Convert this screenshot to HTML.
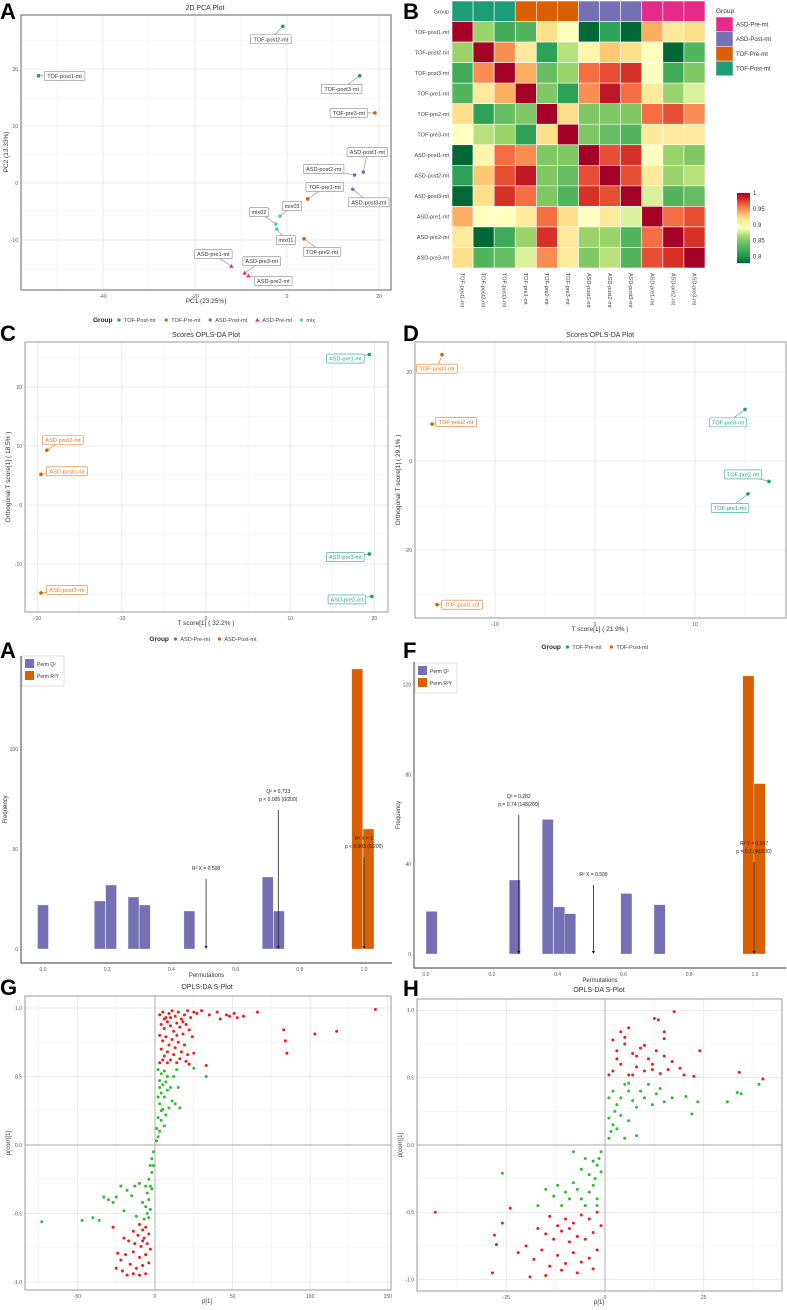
<!DOCTYPE html>
<html><head><meta charset="utf-8"><style>
html,body{margin:0;padding:0;background:#fff;}
svg{display:block;font-family:"Liberation Sans",sans-serif;}
</style></head><body>
<svg id="fig" width="787" height="1310" viewBox="0 0 787 1310" xmlns="http://www.w3.org/2000/svg"></svg>
<script>
// ---------- PCA data (panel A) ----------
const pcaNames=["TOF-post1-mt","TOF-post2-mt","TOF-post3-mt","TOF-pre3-mt","ASD-post1-mt","ASD-post2-mt","ASD-post3-mt","TOF-pre1-mt","mix03","mix02","mix01","TOF-pre2-mt","ASD-pre1-mt","ASD-pre3-mt","ASD-pre2-mt"];
const pcaPC1=[-54,-0.9,15.8,19.1,16.6,14.7,14.3,4.5,-1.5,-2.4,-2.2,3.7,-12.1,-9.2,-8.4];
const pcaPC2=[18.8,27.5,18.8,12.3,1.9,1.4,-1.1,-2.8,-5.8,-7.2,-8.1,-9.8,-14.6,-15.8,-16.3];
const pcaGroup=["TOF-Post","TOF-Post","TOF-Post","TOF-Pre","ASD-Post","ASD-Post","ASD-Post","TOF-Pre","mix","mix","mix","TOF-Pre","ASD-Pre","ASD-Pre","ASD-Pre"];
const pcaXTicks=[-40,-20,0,20];
const pcaYTicks=[-10,0,10,20];
// ---------- Heatmap data (panel B) ----------
const hmSamples=["TOF-post1-mt","TOF-post2-mt","TOF-post3-mt","TOF-pre1-mt","TOF-pre2-mt","TOF-pre3-mt","ASD-post1-mt","ASD-post2-mt","ASD-post3-mt","ASD-pre1-mt","ASD-pre2-mt","ASD-pre3-mt"];
const hmGroups=["TOF-Post","TOF-Post","TOF-Post","TOF-Pre","TOF-Pre","TOF-Pre","ASD-Post","ASD-Post","ASD-Post","ASD-Pre","ASD-Pre","ASD-Pre"];
const hmValues=[
[1,.86,.82,.83,.92,.89,.78,.81,.78,.94,.91,.92],
[.86,1,.95,.91,.81,.87,.90,.93,.92,.89,.78,.83],
[.82,.95,1,.94,.84,.86,.96,.97,.98,.89,.82,.85],
[.83,.91,.94,1,.85,.81,.95,.99,.96,.91,.86,.88],
[.92,.81,.84,.85,1,.92,.85,.85,.85,.96,.97,.95],
[.89,.87,.86,.81,.92,1,.85,.84,.83,.91,.91,.91],
[.78,.90,.96,.95,.85,.85,1,.97,.98,.89,.86,.85],
[.81,.93,.97,.99,.85,.84,.97,1,.97,.91,.86,.87],
[.78,.92,.98,.96,.85,.83,.98,.97,1,.88,.83,.84],
[.94,.89,.89,.91,.96,.92,.89,.91,.88,1,.96,.97],
[.91,.78,.82,.86,.98,.91,.86,.86,.83,.96,1,.98],
[.92,.83,.84,.88,.95,.91,.85,.87,.83,.97,.98,1]];
const hmLegendTicks=[1,0.95,0.9,0.85,0.8];
// ---------- OPLS-DA scores (C, D) ----------
const cNames=["ASD-pre1-mt","ASD-post2-mt","ASD-post1-mt","ASD-pre3-mt","ASD-post3-mt","ASD-pre2-mt"];
const cT=[19.4,-18.9,-19.6,19.4,-19.6,19.7];
const cO=[25.5,9.3,5.2,-8.3,-14.9,-15.5];
const cGroup=["pre","post","post","pre","post","pre"];
const cXTicks=[-20,-10,0,10,20];
const cYTicks=[-10,0,10,20];
const dNames=["TOF-post3-mt","TOF-post2-mt","TOF-pre3-mt","TOF-pre2-mt","TOF-pre1-mt","TOF-post1-mt"];
const dT=[-15.3,-16.3,15,17.4,15.3,-15.8];
const dO=[23.9,8.3,11.6,-4.6,-7.4,-32.3];
const dGroup=["post","post","pre","pre","pre","post"];
const dXTicks=[-10,0,10];
const dYTicks=[-20,0,20];
// ---------- Permutation histograms ----------
const eQ2Bins=[0.0,0.177,0.212,0.282,0.317,0.456,0.70,0.735];
const eQ2Freq=[22,24,32,26,22,19,36,19];
const eR2YBins=[0.979,1.014];
const eR2YFreq=[140,60];
const eStats=[0.508,0.733,1.0];
const eYTicks=[0,50,100];
const fQ2Bins=[0.017,0.27,0.37,0.405,0.438,0.609,0.71];
const fQ2Freq=[19,33,60,21,18,27,22];
const fR2YBins=[0.98,1.014];
const fR2YFreq=[124,76];
const fStats=[0.509,0.282,0.997];
const fYTicks=[0,40,80,120];
const permXTicks=[0,0.2,0.4,0.6,0.8,1.0];
// ---------- S-plots ----------
const gPoints=[[3,0.95],[5,0.97],[7,0.93],[9,0.96],[11,0.98],[13,0.94],[15,0.97],[17,0.92],[19,0.95],[21,0.98],[23,0.93],[25,0.97],[27,0.96],[4,0.88],[6,0.85],[8,0.9],[10,0.87],[12,0.83],[14,0.89],[16,0.86],[18,0.81],[20,0.88],[22,0.84],[24,0.79],[3,0.8],[5,0.76],[7,0.79],[9,0.73],[11,0.77],[13,0.71],[15,0.75],[17,0.68],[19,0.73],[21,0.66],[4,0.7],[6,0.65],[8,0.68],[10,0.62],[12,0.66],[14,0.6],[3,0.6],[5,0.62],[16,0.63],[25,0.67],[20,0.61],[6,0.92],[10,0.93],[14,0.8],[18,0.9],[8,0.6],[30,0.98],[35,0.95],[40,0.97],[42,0.92],[46,0.95],[48,0.94],[51,0.96],[53,0.93],[57,0.94],[66,0.97],[83,0.84],[84,0.76],[85,0.67],[103,0.81],[117,0.83],[142,0.99],[33,0.58],[22,0.59],
[2,0.55],[4,0.52],[6,0.54],[8,0.5],[3,0.47],[5,0.44],[7,0.46],[10,0.42],[12,0.5],[14,0.55],[4,0.38],[6,0.35],[8,0.4],[11,0.32],[13,0.3],[3,0.3],[5,0.26],[7,0.22],[9,0.27],[4,0.18],[6,0.14],[3,0.1],[2,0.06],[1,0.03],[2,0.2],[16,0.27],[15,0.42],[33,0.5],[25,0.56],[3,0.42],[2,0.35],[4,0.25],[1,0.12],
[-1,-0.05],[-2,-0.1],[-3,-0.15],[-2,-0.2],[-4,-0.25],[-3,-0.3],[-5,-0.35],[-4,-0.4],[-6,-0.45],[-5,-0.5],[-7,-0.54],[-3,-0.47],[-6,-0.3],[-8,-0.42],[-10,-0.28],[-13,-0.3],[-15,-0.37],[-18,-0.33],[-22,-0.3],[-25,-0.38],[-27,-0.42],[-30,-0.4],[-33,-0.38],[-20,-0.48],[-12,-0.52],[-36,-0.55],[-40,-0.53],[-47,-0.55],[-73,-0.56],[-2,-0.32],[-1,-0.15],[-4,-0.53],
[-6,-0.6],[-8,-0.62],[-10,-0.58],[-4,-0.65],[-7,-0.68],[-11,-0.66],[-14,-0.63],[-5,-0.72],[-9,-0.74],[-13,-0.72],[-17,-0.7],[-20,-0.68],[-27,-0.6],[-6,-0.8],[-10,-0.82],[-14,-0.78],[-19,-0.8],[-24,-0.79],[-4,-0.86],[-8,-0.88],[-12,-0.9],[-16,-0.87],[-21,-0.92],[-25,-0.9],[-6,-0.94],[-10,-0.95],[-14,-0.94],[-18,-0.95],[-22,-0.84],[-3,-0.76],[-8,-0.7]];
const gXTicks=[-50,0,50,100,150];
const gYTicks=[-1,-0.5,0,0.5,1];
const hPoints=[[2,0.55],[4,0.6],[6,0.52],[8,0.58],[10,0.55],[12,0.6],[14,0.53],[3,0.7],[5,0.75],[7,0.68],[9,0.72],[11,0.64],[13,0.7],[15,0.66],[17,0.62],[2,0.78],[4,0.84],[6,0.87],[5,0.8],[3,0.64],[8,0.66],[10,0.74],[12,0.56],[16,0.56],[19,0.57],[20,0.52],[17.5,0.99],[12.5,0.94],[13.5,0.93],[15,0.84],[15,0.79],[24,0.7],[22.5,0.51],[34,0.54],[40,0.49],[7,0.52],[1,0.52],
[1,0.05],[1.5,0.1],[2,0.15],[1,0.2],[2.5,0.25],[3,0.3],[4,0.35],[2,0.4],[5,0.45],[6,0.4],[7,0.33],[8,0.28],[4,0.22],[6,0.18],[3,0.12],[9,0.4],[10,0.35],[11,0.45],[12,0.3],[13,0.38],[14,0.42],[15,0.32],[5,0.05],[8,0.07],[17,0.35],[20.5,0.36],[22,0.23],[23.5,0.32],[31,0.32],[33.5,0.39],[34.5,0.38],[39,0.45],[6,0.46],[1,0.35],
[-1,-0.05],[-1.5,-0.1],[-2,-0.15],[-1,-0.2],[-2.5,-0.25],[-3,-0.3],[-4,-0.35],[-2,-0.4],[-5,-0.45],[-6,-0.4],[-7,-0.33],[-8,-0.28],[-4,-0.22],[-6,-0.18],[-3,-0.12],[-9,-0.4],[-10,-0.35],[-11,-0.45],[-12,-0.3],[-13,-0.38],[-15,-0.33],[-17,-0.45],[-26,-0.21],[-5,-0.1],[-8,-0.05],[-2,-0.45],
[-2,-0.5],[-4,-0.55],[-6,-0.52],[-8,-0.58],[-10,-0.55],[-12,-0.6],[-14,-0.53],[-3,-0.65],[-5,-0.7],[-7,-0.68],[-9,-0.72],[-11,-0.64],[-13,-0.7],[-15,-0.66],[-17,-0.62],[-2,-0.78],[-4,-0.84],[-6,-0.87],[-8,-0.8],[-10,-0.88],[-12,-0.82],[-14,-0.9],[-16,-0.78],[-18,-0.85],[-20,-0.75],[-7,-0.95],[-11,-0.93],[-15,-0.97],[-19,-0.98],[-22,-0.8],[-43,-0.5],[-28,-0.67],[-28.5,-0.95],[-27.5,-0.74],[-26,-0.58],[-24,-0.47],[-3,-0.92],[-1,-0.6],[-9,-0.62]];
const hXTicks=[-25,0,25];
const hYTicks=[-1,-0.5,0,0.5,1];

// ---------- helpers ----------
const NS="http://www.w3.org/2000/svg";
const svg=document.getElementById("fig");
function mk(tag,attrs,parent){const e=document.createElementNS(NS,tag);for(const k in attrs)e.setAttribute(k,attrs[k]);(parent||svg).appendChild(e);return e;}
function tx(x,y,s,size,attrs,parent){const t=mk("text",Object.assign({x:x,y:y,"font-size":size},attrs||{}),parent);t.textContent=s;return t;}
function lin(d0,d1,p0,p1){return v=>p0+(v-d0)*(p1-p0)/(d1-d0);}
const COL={"TOF-Post":"#1b9e77","TOF-Pre":"#d95f02","ASD-Post":"#7570b3","ASD-Pre":"#e7298a","mix":"#4fc8d0"};

function panelLetter(x,y,s){
  const t=tx(x,y,s,22,{"font-weight":"bold",fill:"#000"});
  
  
}
function gridFrame(g,L,T,R,B,sx,sy,xt,yt,xstep,ystep,border){
  const bg=mk("rect",{x:L,y:T,width:R-L,height:B-T,fill:"#fff"},g);
  
  
  for(let i=0;i<xt.length;i++){
    const mx=sx(xt[i]+xstep/2);
    if(mx>L&&mx<R){const m=mk("line",{x1:mx,x2:mx,y1:T,y2:B,stroke:"#f2f2f2","stroke-width":0.6},g);
      
      }
    const mx2=sx(xt[i]-xstep/2);
    if(i==0&&mx2>L){const m=mk("line",{x1:mx2,x2:mx2,y1:T,y2:B,stroke:"#f2f2f2","stroke-width":0.6},g);
      
      }
  }
  for(let i=0;i<yt.length;i++){
    const my=sy(yt[i]+ystep/2);
    if(my>T&&my<B){const m=mk("line",{x1:L,x2:R,y1:my,y2:my,stroke:"#f2f2f2","stroke-width":0.6},g);
      
      }
    const my2=sy(yt[i]-ystep/2);
    if(i==0&&my2<B){const m=mk("line",{x1:L,x2:R,y1:my2,y2:my2,stroke:"#f2f2f2","stroke-width":0.6},g);
      
      }
  }
  xt.forEach(v=>{const x=sx(v);
    const l=mk("line",{x1:x,x2:x,y1:T,y2:B,stroke:"#e6e6e6","stroke-width":0.8},g);
    
    
    const t=tx(x,B+8,String(v),5,{"text-anchor":"middle",fill:"#555"},g);
    
    });
  yt.forEach(v=>{const y=sy(v);
    const l=mk("line",{x1:L,x2:R,y1:y,y2:y,stroke:"#e6e6e6","stroke-width":0.8},g);
    
    
    const t=tx(L-3,y+1.8,(Math.abs(v)<1e-9&&ystep<1?"0.0":(ystep<1?v.toFixed(1):String(v))),5,{"text-anchor":"end",fill:"#555"},g);
    
    });
  const b=mk("rect",{x:L,y:T,width:R-L,height:B-T,fill:"none",stroke:border||"#8a8a8a","stroke-width":1},g);
  
  
}
function labelBox(g,px,py,lx,ly,s,stroke,fill){
  const c=mk("line",{x1:px,y1:py,x2:lx,y2:ly,stroke:stroke,"stroke-width":0.6},g);
  
  
  const w=s.length*3.05+4;
  const r=mk("rect",{x:lx-w/2,y:ly-4.5,width:w,height:9,rx:1,fill:"#fff",stroke:stroke,"stroke-width":0.6},g);
  
  
  const t=tx(lx,ly+2,s,5.6,{"text-anchor":"middle",fill:fill},g);
  
  
}
function legendRow(g,cx,y,items){
  let widths=items.map(it=>it[0].length*3.2+12);
  let total=22+widths.reduce((a,b)=>a+b,0);
  let x=cx-total/2;
  const t=tx(x,y+2,"Group",6.5,{"font-weight":"bold",fill:"#222"},g);
  
  
  x+=24;
  items.forEach((it,i)=>{
    let m;
    if(it[2]==="tri"){m=mk("path",{d:`M${x+2},${y-2.2}L${x+4.2},${y+1.6}L${x-0.2},${y+1.6}Z`,fill:it[1]},g);}
    else m=mk("circle",{cx:x+2,cy:y,r:1.6,fill:it[1]},g);
    
    
    const l=tx(x+7,y+2,it[0],5.5,{fill:"#444"},g);
    
    
    x+=widths[i];
  });
}

// ================= Panel A: PCA =================
(function(){
  const g=mk("g",{});
  
  
  const L=21,T=15,R=391,B=290;
  const sx=lin(0,20,287,379), sy=lin(0,10,183,126);
  gridFrame(g,L,T,R,B,sx,sy,pcaXTicks,pcaYTicks,20,10,"#666");
  const ttl=tx(205,10,"2D PCA Plot",7,{"text-anchor":"middle",fill:"#333"},g);
  
  
  const xl=tx(206,303,"PC1 (23.25%)",6.5,{"text-anchor":"middle",fill:"#333"},g);
  
  
  const yl=tx(0,0,"PC2 (13.33%)",6.5,{"text-anchor":"middle",fill:"#333",transform:"translate(8,152) rotate(-90)"},g);
  
  
  const off=[[26,0],[-12,13],[-18,13],[-26,0],[4,-20],[-31,-6],[16,13],[17,-12],[12,-10],[-17,-12],[9,11],[18,13],[-18,-12],[17,-12],[25,5]];
  pcaNames.forEach((n,i)=>{
    const px=sx(pcaPC1[i]),py=sy(pcaPC2[i]);
    labelBox(g,px,py,px+off[i][0],py+off[i][1],n,"#888","#333");
  });
  pcaNames.forEach((n,i)=>{
    const px=sx(pcaPC1[i]),py=sy(pcaPC2[i]);let m;
    if(pcaGroup[i]==="ASD-Pre")m=mk("path",{d:`M${px},${py-2.4}L${px+2.2},${py+1.6}L${px-2.2},${py+1.6}Z`,fill:COL[pcaGroup[i]]},g);
    else m=mk("circle",{cx:px,cy:py,r:1.8,fill:COL[pcaGroup[i]]},g);
    
    
  });
  legendRow(g,206,320,[["TOF-Post-mt",COL["TOF-Post"]],["TOF-Pre-mt",COL["TOF-Pre"]],["ASD-Post-mt",COL["ASD-Post"]],["ASD-Pre-mt",COL["ASD-Pre"],"tri"],["mix",COL.mix]]);
})();
panelLetter(0,19,"A");

// ================= Panel B: Heatmap =================
function hmColor(v){
  const st=[[0.78,[0,104,55]],[0.80,[26,152,80]],[0.84,[102,189,99]],[0.865,[166,217,106]],[0.89,[255,255,191]],[0.92,[254,224,139]],[0.94,[253,174,97]],[0.96,[244,109,67]],[0.98,[215,48,39]],[1.0,[165,0,38]]];
  if(v<=st[0][0])return `rgb(${st[0][1]})`;
  for(let i=1;i<st.length;i++){if(v<=st[i][0]){const a=st[i-1],b=st[i],t=(v-a[0])/(b[0]-a[0]);
    const c=a[1].map((x,k)=>Math.round(x+(b[1][k]-x)*t));return `rgb(${c})`;}}
  return "rgb(165,0,38)";
}
(function(){
  const g=mk("g",{});
  
  
  const L=452,R=705,T=1,B=268,n=hmSamples.length;
  const cw=(R-L)/n,ch=(B-T)/(n+1);
  hmGroups.forEach((gr,j)=>{
    const r=mk("rect",{x:L+j*cw,y:T,width:cw,height:ch,fill:COL[gr],stroke:"#fff","stroke-width":0.6},g);
    
    
  });
  const gl=tx(L-3,T+ch/2+2,"Group",5.5,{"text-anchor":"end",fill:"#444"},g);
  
  
  hmValues.forEach((row,i)=>{
    row.forEach((v,j)=>{
      const r=mk("rect",{x:L+j*cw,y:T+(i+1)*ch,width:cw,height:ch,fill:hmColor(v),stroke:"#fff","stroke-width":0.6},g);
      
      
    });
    const t=tx(L-3,T+(i+1.5)*ch+2,hmSamples[i],5.5,{"text-anchor":"end",fill:"#444"},g);
    
    
  });
  hmSamples.forEach((s,j)=>{
    const x=L+(j+0.5)*cw;
    const t=tx(0,0,s,5.5,{fill:"#444",transform:`translate(${x-2},${B+5}) rotate(90)`},g);
    
    
  });
  const lt=tx(716,13,"Group",6.5,{fill:"#333"},g);
  
  
  [["ASD-Pre-mt","ASD-Pre"],["ASD-Post-mt","ASD-Post"],["TOF-Pre-mt","TOF-Pre"],["TOF-Post-mt","TOF-Post"]].forEach((it,i)=>{
    const r=mk("rect",{x:716,y:17+i*14.7,width:17,height:14.7,fill:COL[it[1]],stroke:"#fff","stroke-width":0.5},g);
    
    
    const t=tx(736,17+i*14.7+9.5,it[0],6,{fill:"#333"},g);
    
    
  });
  const cT=193,cB=263,vmin=0.78,vmax=1.0;
  for(let k=0;k<70;k++){
    const v=vmax-(k+0.5)/70*(vmax-vmin);
    const r=mk("rect",{x:737,y:cT+k,width:13,height:1.2,fill:hmColor(v)},g);
    
    
  }
  const cy=lin(vmax,vmin,cT,cB);
  hmLegendTicks.forEach(v=>{
    const t=tx(753,cy(v)+2,String(v),6,{fill:"#333"},g);
    
    
  });
})();
panelLetter(403,19,"B");

// ================= Panels C, D: OPLS-DA scores =================
function scoresPanel(name,L,T,R,B,sx,sy,xt,yt,xs,ys,names,tt,oo,grp,off,xlab,ylab,cx,preColor,postColor){
  const g=mk("g",{});
  
  
  gridFrame(g,L,T,R,B,sx,sy,xt,yt,xs,ys,"#999");
  const t=tx(cx,T-5,"Scores OPLS-DA Plot",7,{"text-anchor":"middle",fill:"#333"},g);
  
  
  const xl=tx(cx,B+13,xlab,6.5,{"text-anchor":"middle",fill:"#333"},g);
  
  
  const yl=tx(0,0,ylab,6.5,{"text-anchor":"middle",fill:"#333",transform:`translate(${L-15},${(T+B)/2}) rotate(-90)`},g);
  
  
  names.forEach((n,i)=>{
    const px=sx(tt[i]),py=sy(oo[i]);const c=grp[i]==="pre"?preColor:postColor;
    labelBox(g,px,py,px+off[i][0],py+off[i][1],n,c,c);
  });
  names.forEach((n,i)=>{
    const px=sx(tt[i]),py=sy(oo[i]);
    const m=mk("circle",{cx:px,cy:py,r:1.8,fill:grp[i]==="pre"?"#1b9e77":"#d95f02"},g);
    
    
  });
}
scoresPanel("scores-plot-asd",25,342,388,612,lin(0,10,206,290.2),lin(0,10,505,446),cXTicks,cYTicks,10,10,cNames,cT,cO,cGroup,
  [[-24,4],[16,-10],[26,-3],[-24,3],[26,-3],[-25,3]],"T score[1] ( 32.2% )","Orthogonal T score[1] ( 18.5% )",206,"#2aa58a","#e07b2a");
scoresPanel("scores-plot-tof",415,342,786,618,lin(0,10,595,695),lin(0,20,461,372),dXTicks,dYTicks,10,20,dNames,dT,dO,dGroup,
  [[-5,14],[24,-2],[-17,13],[-26,-7],[-18,14],[25,0]],"T score[1] ( 21.9% )","Orthogonal T score[1] ( 29.1% )",600,"#2aa58a","#e07b2a");
panelLetter(0,341,"C");
panelLetter(403,341,"D");
(function(){
  const g=mk("g",{});
  
  
  legendRow(g,206,639,[["ASD-Pre-mt","#1b9e77"],["ASD-Post-mt","#d95f02"]]);
  legendRow(g,598,647,[["TOF-Pre-mt","#1b9e77"],["TOF-Post-mt","#d95f02"]]);
})();

// ================= Permutation panels =================
function permPanel(name,L,T,R,B,sx,sy,yt,q2b,q2f,ryb,ryf,arrows,leg){
  const g=mk("g",{});
  
  
  const bw=sx(0.034)-sx(0);
  q2b.forEach((b,i)=>{
    const r=mk("rect",{x:sx(b)-bw/2,y:sy(q2f[i]),width:bw,height:sy(0)-sy(q2f[i]),fill:"#7570b3",stroke:"#fff","stroke-width":0.3},g);
    
    
  });
  ryb.forEach((b,i)=>{
    const r=mk("rect",{x:sx(b)-bw/2,y:sy(ryf[i]),width:bw,height:sy(0)-sy(ryf[i]),fill:"#d95f02",stroke:"#fff","stroke-width":0.3},g);
    
    
  });
  arrows.forEach(a=>{
    const x=sx(a.v);
    const l=mk("line",{x1:x,x2:x,y1:a.top,y2:sy(0)-2,stroke:"#222","stroke-width":0.8},g);
    
    
    const h=mk("path",{d:`M${x-1.6},${sy(0)-3}L${x+1.6},${sy(0)-3}L${x},${sy(0)}Z`,fill:"#222"},g);
    
    
    a.lines.forEach((s,k)=>{
      const t=tx(x,a.top-9+k*8-(a.lines.length-1)*8,s,5,{"text-anchor":"middle",fill:"#222"},g);
      
      
    });
  });
  const ax=mk("path",{d:`M${L},${T}V${B}H${R}`,fill:"none",stroke:"#333","stroke-width":0.9},g);
  
  
  permXTicks.forEach(v=>{
    const t=tx(sx(v),B+8,v.toFixed(1),5,{"text-anchor":"middle",fill:"#555"},g);
    
    
  });
  yt.forEach(v=>{
    const t=tx(L-3,sy(v)+1.8,String(v),5,{"text-anchor":"end",fill:"#555"},g);
    
    
  });
  const xl=tx((L+R)/2,B+14,"Permutations",6,{"text-anchor":"middle",fill:"#333"},g);
  
  
  const yl=tx(0,0,"Frequency",6,{"text-anchor":"middle",fill:"#333",transform:`translate(${L-14},${(T+B)/2}) rotate(-90)`},g);
  
  
  const lb=mk("rect",{x:leg[0],y:leg[1],width:42,height:30,fill:"#fff",stroke:"#ccc","stroke-width":0.6},g);
  
  
  [["Perm Q²","#7570b3"],["Perm R²Y","#d95f02"]].forEach((it,i)=>{
    const s=mk("rect",{x:leg[0]+3,y:leg[1]+3+i*12,width:9,height:9,fill:it[1]},g);
    
    
    const t=tx(leg[0]+15,leg[1]+10+i*12,it[0],5,{fill:"#333"},g);
    
    
  });
}
(function(){
  const sx=lin(0,1,43,364), sy=lin(0,50,949,849);
  permPanel("permutation-asd",21,656,392,963,sx,sy,eYTicks,eQ2Bins,eQ2Freq,eR2YBins,eR2YFreq,[
    {v:eStats[0],top:879,lines:["R² X = "+eStats[0]]},
    {v:eStats[1],top:810,lines:["Q² = "+eStats[1],"p < 0.005 (0/200)"]},
    {v:eStats[2],top:857,lines:["R² Y = 1","p < 0.005 (0/200)"]}],[22,656]);
  const fx=lin(0,1,426,755), fy=lin(0,40,954,864.3);
  permPanel("permutation-tof",414,662,786,968,fx,fy,fYTicks,fQ2Bins,fQ2Freq,fR2YBins,fR2YFreq,[
    {v:fStats[0],top:885,lines:["R² X = "+fStats[0]]},
    {v:fStats[1],top:815,lines:["Q² = "+fStats[1],"p = 0.74 (148/200)"]},
    {v:fStats[2],top:862,lines:["R² Y = "+fStats[2],"p = 0.2 (40/200)"]}],[415,663]);
})();
panelLetter(0,658,"A");
panelLetter(403,658,"F");

// ================= S-plots =================
function sPlot(name,L,T,R,B,sx,sy,xt,yt,xs,pts,thr,cx){
  const g=mk("g",{});
  
  
  gridFrame(g,L,T,R,B,sx,sy,xt,yt,xs,0.5,"#999");
  const z1=mk("line",{x1:sx(0),x2:sx(0),y1:T,y2:B,stroke:"#aaa","stroke-width":0.9},g);
  
  
  const z2=mk("line",{x1:L,x2:R,y1:sy(0),y2:sy(0),stroke:"#aaa","stroke-width":0.9},g);
  
  
  pts.forEach(p=>{
    const red=Math.abs(p[1])>=thr;
    const c=mk("circle",{cx:sx(p[0]),cy:sy(p[1]),r:1.5,fill:red?"#ee1c1c":"#2dbe2d"},g);
    
    
  });
  const t=tx(cx,T-7,"OPLS-DA S-Plot",7,{"text-anchor":"middle",fill:"#333"},g);
  
  
  const xl=tx(cx,B+13,"p[1]",6,{"text-anchor":"middle",fill:"#333"},g);
  
  
  const yl=tx(0,0,"p(corr)[1]",6,{"text-anchor":"middle",fill:"#333",transform:`translate(${L-15},${(T+B)/2}) rotate(-90)`},g);
  
  
}
sPlot("splot-asd",25,996,391,1290,lin(0,50,155,232.6),lin(0,0.5,1145,1076.5),gXTicks,gYTicks,50,gPoints,0.57,207);
sPlot("splot-tof",417,999,782,1291,lin(0,25,605,703.7),lin(0,0.5,1145,1077.7),hXTicks,hYTicks,25,hPoints,0.47,599);
panelLetter(0,995,"G");
panelLetter(403,996,"H");
</script>
</body></html>
